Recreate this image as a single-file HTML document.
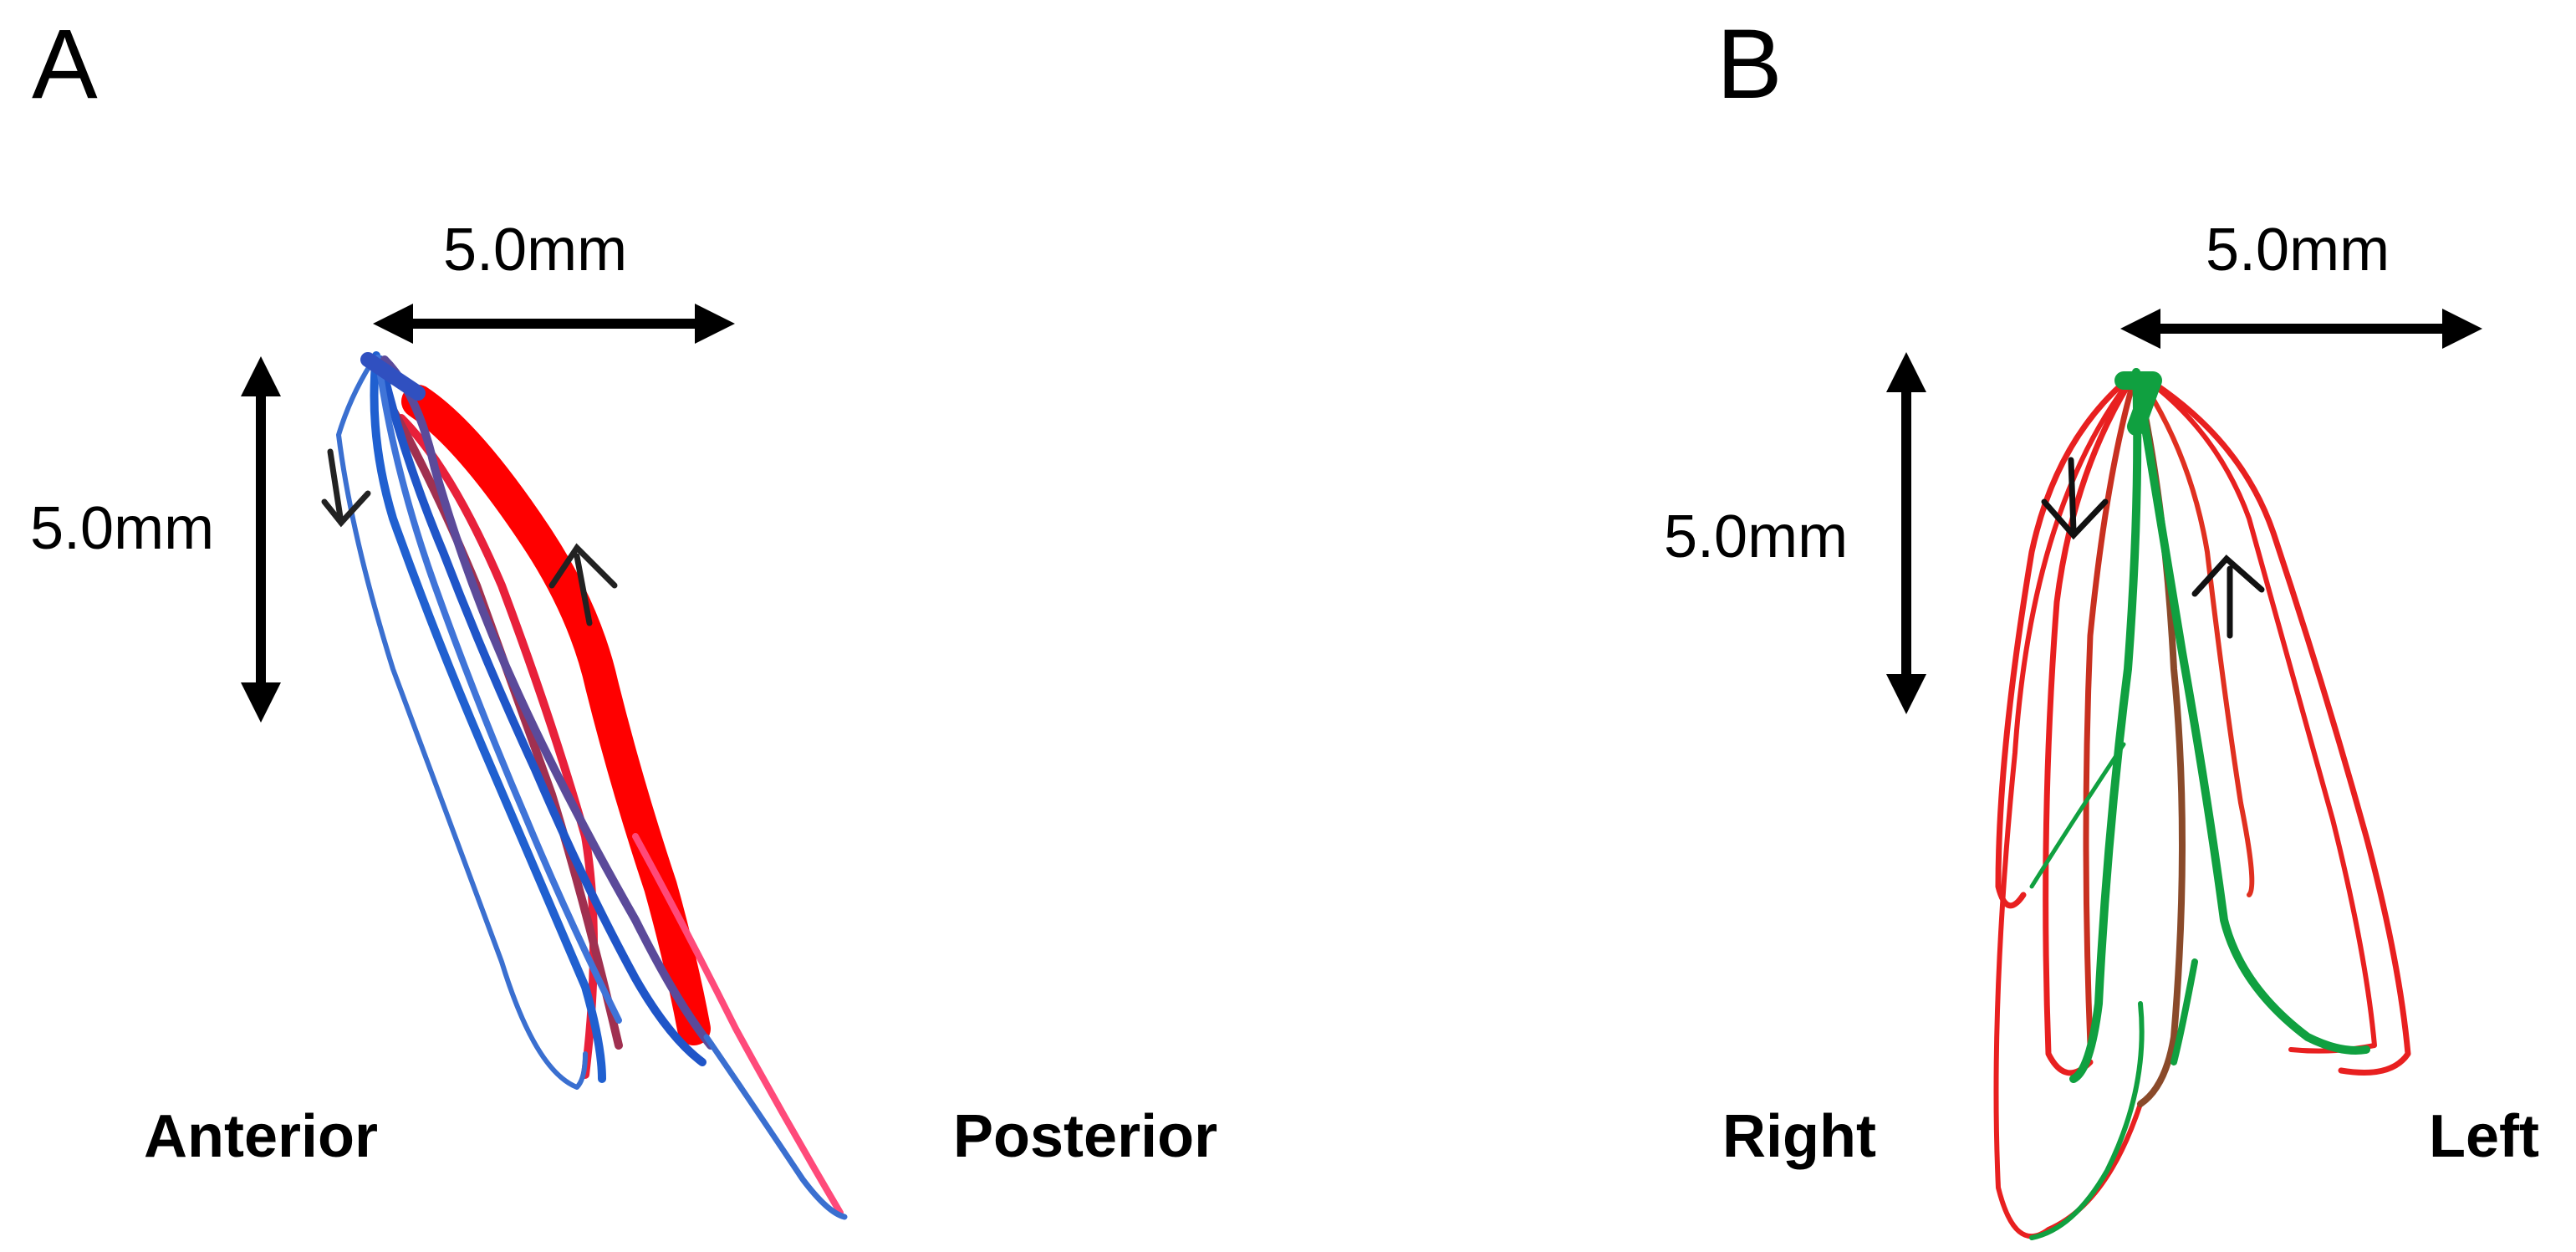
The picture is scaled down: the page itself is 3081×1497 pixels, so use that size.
<!DOCTYPE html>
<html><head><meta charset="utf-8"><style>
html,body{margin:0;padding:0;background:#fff}
svg{display:block}
text{font-family:"Liberation Sans","DejaVu Sans",sans-serif;fill:#000}
</style></head><body>
<svg width="3081" height="1497" viewBox="0 0 3081 1497" xmlns="http://www.w3.org/2000/svg">
<defs>
<marker id="ah" markerWidth="4" markerHeight="4" refX="2" refY="2" orient="auto-start-reverse" markerUnits="strokeWidth"><path d="M0,0 L4,2 L0,4 z" fill="#000"/></marker>
</defs>
<!-- Panel A -->
<text x="38" y="117" font-size="118">A</text>
<text x="530" y="323" font-size="72">5.0mm</text>
<text x="36" y="656" font-size="72">5.0mm</text>
<text x="172" y="1383" font-size="72" font-weight="bold">Anterior</text>
<text x="1140" y="1383" font-size="72" font-weight="bold">Posterior</text>
<line x1="470" y1="387" x2="855" y2="387" stroke="#000" stroke-width="12" marker-start="url(#ah)" marker-end="url(#ah)"/>
<line x1="312" y1="450" x2="312" y2="840" stroke="#000" stroke-width="12" marker-start="url(#ah)" marker-end="url(#ah)"/>
<g fill="none" stroke-linecap="round" stroke-linejoin="round">
<path d="M500,480 Q560,520 640,640 Q700,730 720,820 Q750,940 790,1060 Q815,1150 830,1230" stroke="#ff0000" stroke-width="40"/>
<path d="M480,500 Q540,560 600,700 Q660,860 700,1000 Q720,1120 700,1285" stroke="#e8203a" stroke-width="10"/>
<path d="M470,490 Q520,580 570,700 Q620,840 660,950 Q700,1080 740,1250" stroke="#a03050" stroke-width="10"/>
<path d="M760,1000 Q820,1110 880,1230 Q940,1340 1005,1450" stroke="#ff4a7a" stroke-width="8"/>
<path d="M450,425 Q420,470 405,520 Q420,640 470,800 Q540,990 600,1150 Q640,1280 690,1300 Q700,1290 700,1260" stroke="#3a6fd0" stroke-width="6"/>
<path d="M450,425 Q440,520 470,620 Q520,760 580,900 Q640,1040 700,1180 Q720,1250 720,1290" stroke="#2060d0" stroke-width="10"/>
<path d="M455,430 Q480,540 530,660 Q580,790 640,920 Q700,1060 760,1170 Q800,1240 840,1270" stroke="#1f55c8" stroke-width="10"/>
<path d="M452,428 Q470,560 520,700 Q570,840 630,980 Q680,1100 740,1220" stroke="#3f74d8" stroke-width="8"/>
<path d="M460,430 Q500,470 520,560 Q560,700 620,830 Q680,960 760,1100 Q810,1200 850,1250" stroke="#5b4a9a" stroke-width="10"/>
<path d="M845,1240 Q900,1320 960,1410 Q990,1450 1010,1455" stroke="#3a6fd0" stroke-width="7"/>
<path d="M440,430 L470,450 L500,470" stroke="#3050c0" stroke-width="18"/>
</g>
<g fill="none" stroke="#222" stroke-width="7" stroke-linecap="round">
<path d="M395,540 L408,625"/><path d="M388,600 L408,625 L440,590"/>
<path d="M705,745 L690,665"/><path d="M660,700 L690,655 L735,700"/>
</g>
<!-- Panel B -->
<text x="2053" y="117" font-size="118">B</text>
<text x="2638" y="323" font-size="72">5.0mm</text>
<text x="1990" y="666" font-size="72">5.0mm</text>
<text x="2060" y="1383" font-size="72" font-weight="bold">Right</text>
<text x="2905" y="1383" font-size="72" font-weight="bold">Left</text>
<line x1="2560" y1="393" x2="2945" y2="393" stroke="#000" stroke-width="12" marker-start="url(#ah)" marker-end="url(#ah)"/>
<line x1="2280" y1="445" x2="2280" y2="830" stroke="#000" stroke-width="12" marker-start="url(#ah)" marker-end="url(#ah)"/>
<g fill="none" stroke-linecap="round" stroke-linejoin="round">
<path d="M2555,445 Q2460,520 2430,660 Q2390,900 2390,1060 Q2400,1100 2420,1070" stroke="#e82020" stroke-width="7"/>
<path d="M2555,445 Q2480,560 2460,720 Q2440,980 2450,1260 Q2470,1300 2500,1270" stroke="#e82020" stroke-width="7"/>
<path d="M2555,445 Q2520,560 2500,760 Q2490,1000 2500,1250" stroke="#c83020" stroke-width="7"/>
<path d="M2555,445 Q2430,600 2410,900 Q2380,1200 2390,1420 Q2410,1500 2450,1470 Q2520,1440 2560,1320" stroke="#e82020" stroke-width="6"/>
<path d="M2555,445 Q2680,520 2720,640 Q2780,820 2830,1000 Q2870,1150 2880,1260 Q2860,1290 2800,1280" stroke="#e82020" stroke-width="7"/>
<path d="M2555,445 Q2650,510 2690,620 Q2740,800 2790,980 Q2830,1140 2840,1250 Q2790,1260 2740,1255" stroke="#e82020" stroke-width="6"/>
<path d="M2555,445 Q2620,540 2640,660 Q2660,830 2680,960 Q2700,1060 2690,1070" stroke="#e03020" stroke-width="6"/>
<path d="M2555,445 Q2590,600 2600,800 Q2620,1000 2600,1240 Q2590,1300 2560,1320" stroke="#8a4a2a" stroke-width="8"/>
<path d="M2555,445 Q2560,600 2545,800 Q2520,1000 2510,1200 Q2500,1280 2480,1290" stroke="#10a040" stroke-width="10"/>
<path d="M2555,445 Q2580,600 2610,780 Q2640,950 2660,1100 Q2680,1180 2760,1240 Q2800,1260 2830,1255" stroke="#10a040" stroke-width="10"/>
<path d="M2540,890 Q2480,980 2430,1060" stroke="#10a040" stroke-width="5"/>
<path d="M2560,1200 Q2570,1300 2520,1400 Q2480,1470 2430,1480" stroke="#10a040" stroke-width="6"/>
<path d="M2540,455 L2575,455 L2555,510" stroke="#10a040" stroke-width="22"/>
<path d="M2625,1150 Q2610,1230 2600,1270" stroke="#10a040" stroke-width="8"/>
</g>
<g fill="none" stroke="#111" stroke-width="7" stroke-linecap="round">
<path d="M2477,550 L2480,635"/><path d="M2445,600 L2480,640 L2518,600"/>
<path d="M2667,760 L2667,680"/><path d="M2625,710 L2663,668 L2705,705"/>
</g>
</svg>
</body></html>
